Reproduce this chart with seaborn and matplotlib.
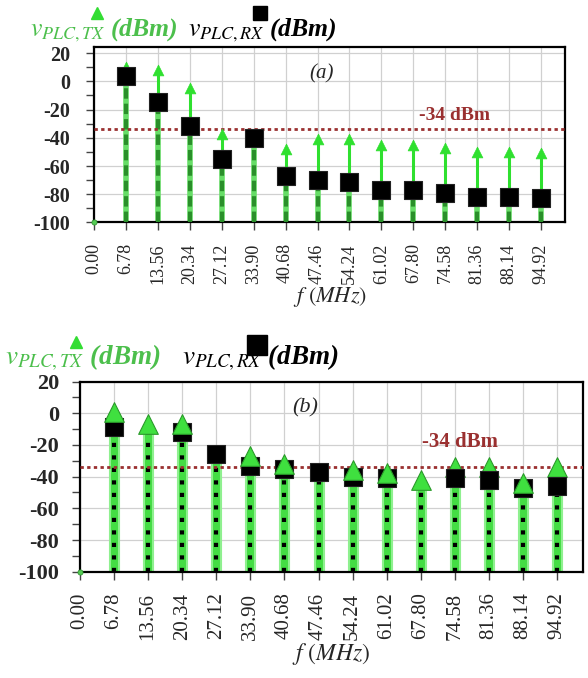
import numpy as np
import pandas as pd
import matplotlib
matplotlib.use('Agg')
import matplotlib.pyplot as plt
import seaborn as sns
from matplotlib.lines import Line2D
from matplotlib.ticker import MultipleLocator

# Frequencies of the harmonics (MHz) and their tick labels
freq = [0.00, 6.78, 13.56, 20.34, 27.12, 33.90, 40.68, 47.46,
        54.24, 61.02, 67.80, 74.58, 81.36, 88.14, 94.92]
freq_labels = ['0.00', '6.78', '13.56', '20.34', '27.12', '33.90', '40.68', '47.46',
               '54.24', '61.02', '67.80', '74.58', '81.36', '88.14', '94.92']

# Panel (a) levels (dBm)
tx_a = [-100, 10, 8, -5, -37, -38, -48, -41, -41, -45, -45, -47, -50, -50, -51]
rx_a = [-100, 4, -15, -32, -55, -40, -67, -70, -71, -77, -77, -79, -82, -82, -83]

# Panel (b) levels (dBm), nan = hidden behind the other marker
tx_b = [-100, 1, -7, -7, np.nan, -27, -32, np.nan, -36, -38, -42, -34, -34, -44, -34]
rx_b = [-100, -9, np.nan, -12, -26, -33, -35, -37, -40, -41, np.nan, -41, -42, -47, -46]
rx_front_b = [47.46, 74.58, 81.36, 94.92]

limit_dbm = -34
limit_label = '-34 dBm'

GREEN = '#2fe02f'
DARK_GREEN = '#2a8f2a'
TX_TEXT = '#4cbf4c'
LIMIT_RED = '#9a3030'


def style_axes(ax, ylim, ypad, fs_x, fs_y, fs_lab):
    ax.set_xlim(0, 100)
    ax.set_ylim(*ylim)
    ax.set_xticks(freq)
    ax.set_xticklabels(freq_labels, rotation=90, fontsize=fs_x)
    ax.set_yticks(range(-100, 21, 20))
    ax.set_yticklabels([str(v) for v in range(-100, 21, 20)], fontsize=fs_y, fontweight='bold')
    ax.yaxis.set_minor_locator(MultipleLocator(10))
    ax.tick_params(axis='both', which='both', direction='out', length=6, width=1,
                   color='#444444', left=True, bottom=True)
    ax.tick_params(axis='x', pad=9)
    ax.tick_params(axis='y', pad=ypad)
    ax.grid(True, which='major', color='#d0d0d0', lw=0.9)
    ax.set_facecolor('white')
    for sp in ax.spines.values():
        sp.set_color('black')
        sp.set_linewidth(1.6)
    ax.set_xlabel(r'$f$ $(MHz)$', fontsize=fs_lab, labelpad=1)
    ax.set_ylabel('')


def floor_marks(ax, df):
    low = df[(df['tx'] <= -100)]
    sns.scatterplot(data=low, x='f', y='tx', marker='o', s=14, color='#55cc55',
                    edgecolor='#2a8f2a', linewidth=0.5, ax=ax, legend=False,
                    zorder=6, clip_on=False)


def draw_panel_a(ax):
    df = pd.DataFrame({'f': freq, 'tx': tx_a, 'rx': rx_a})
    up = df[df['tx'] > -100]
    # solid arrow stems to TX
    ax.vlines(up['f'], -100, up['tx'], color=GREEN, lw=2.2, zorder=2)
    # dashed stems to RX
    ax.vlines(up['f'], -100, up['rx'], color='#66dd66', lw=4, zorder=2.5)
    ax.vlines(up['f'], -100, up['rx'], color=DARK_GREEN, lw=3, linestyles=(0, (2.5, 1.2)),
              zorder=2.6)
    ax.axhline(limit_dbm, color=LIMIT_RED, lw=2, ls=(0, (1.2, 1.2)), zorder=3)
    sns.scatterplot(data=up, x='f', y='tx', marker='^', s=60, color=GREEN,
                    edgecolor=GREEN, linewidth=0.5, ax=ax, legend=False, zorder=4)
    sns.scatterplot(data=up, x='f', y='rx', marker='s', s=150, color='black',
                    edgecolor='#222222', linewidth=0.8, ax=ax, legend=False, zorder=5)
    floor_marks(ax, df)
    style_axes(ax, (-100, 24.5), ypad=11, fs_x=13, fs_y=14.5, fs_lab=16)
    ax.text(48.4, 5.5, '(a)', fontsize=15, style='italic', ha='center', va='center', zorder=7)
    ax.text(76.5, -24, limit_label, fontsize=14, fontweight='bold', color=LIMIT_RED,
            ha='center', va='center', zorder=7)


def draw_panel_b(ax):
    df = pd.DataFrame({'f': freq, 'tx': tx_b, 'rx': rx_b})
    up = df[df[['tx', 'rx']].max(axis=1) > -100].copy()
    up['top'] = up[['tx', 'rx']].max(axis=1)
    ax.vlines(up['f'], -100, up['top'], color='#8ff08f', lw=8, zorder=2)
    ax.vlines(up['f'], -100, up['top'], color='#44dd44', lw=5, zorder=2.2)
    ax.vlines(up['f'], -100, up['top'], color='black', lw=3, linestyles=(0, (1, 2)),
              zorder=2.5)
    ax.axhline(limit_dbm, color=LIMIT_RED, lw=2, ls=(0, (1.2, 1.2)), zorder=3)
    back = up[~up['f'].isin(rx_front_b)]
    front = up[up['f'].isin(rx_front_b)]
    sns.scatterplot(data=back, x='f', y='rx', marker='s', s=170, color='black',
                    edgecolor='#222222', linewidth=0.8, ax=ax, legend=False, zorder=4)
    sns.scatterplot(data=up, x='f', y='tx', marker='^', s=200, color='#3fe03f',
                    edgecolor='#2a9a2a', linewidth=0.8, ax=ax, legend=False, zorder=5)
    sns.scatterplot(data=front, x='f', y='rx', marker='s', s=170, color='black',
                    edgecolor='#222222', linewidth=0.8, ax=ax, legend=False, zorder=6)
    floor_marks(ax, df)
    style_axes(ax, (-100, 20), ypad=9, fs_x=15, fs_y=16, fs_lab=17)
    ax.text(44.7, 3.3, '(b)', fontsize=16, style='italic', ha='center', va='center', zorder=7)
    ax.text(75.6, -18, limit_label, fontsize=15, fontweight='bold', color=LIMIT_RED,
            ha='center', va='center', zorder=7)


def header(fig, y_text, tx_x, rx_x, fs, tri_xy, tri_size, sq_xy, sq_size):
    fig.text(tx_x, y_text, r'$v_{PLC,TX}$ (dBm)', color=TX_TEXT, fontsize=fs,
             style='italic', fontweight='semibold', ha='left', va='baseline')
    fig.text(rx_x, y_text, r'$v_{PLC,RX}$ (dBm)', color='black', fontsize=fs,
             style='italic', fontweight='semibold', ha='left', va='baseline')
    fig.add_artist(Line2D([tri_xy[0]], [tri_xy[1]], transform=fig.transFigure,
                          marker='^', markersize=tri_size, color='#33dd33', ls='none'))
    fig.add_artist(Line2D([sq_xy[0]], [sq_xy[1]], transform=fig.transFigure,
                          marker='s', markersize=sq_size, color='black', ls='none'))


def main():
    sns.set_theme(style='whitegrid')
    plt.rcParams['font.family'] = ['Liberation Serif', 'DejaVu Serif']
    plt.rcParams['mathtext.fontset'] = 'stix'
    plt.rcParams['axes.unicode_minus'] = False

    W, H = 588, 678
    fig = plt.figure(figsize=(W / 100, H / 100), dpi=100)
    fig.patch.set_facecolor('white')

    ax_a = fig.add_axes([94 / W, 1 - 222.5 / H, (565 - 94) / W, (222.5 - 46.7) / H])
    ax_b = fig.add_axes([80 / W, 1 - 571.7 / H, (582.7 - 80) / W, (571.7 - 381.5) / H])

    draw_panel_a(ax_a)
    draw_panel_b(ax_b)

    header(fig, 1 - 36 / H, 30 / W, 188 / W, 18.5,
           (97 / W, 1 - 13 / H), 8, (260 / W, 1 - 13 / H), 10)
    header(fig, 1 - 365 / H, 5 / W, 182 / W, 19.5,
           (76 / W, 1 - 342 / H), 9, (257 / W, 1 - 345 / H), 14)

    fig.savefig('out.png', dpi=100, facecolor='white')
    plt.close(fig)


if __name__ == '__main__':
    main()
